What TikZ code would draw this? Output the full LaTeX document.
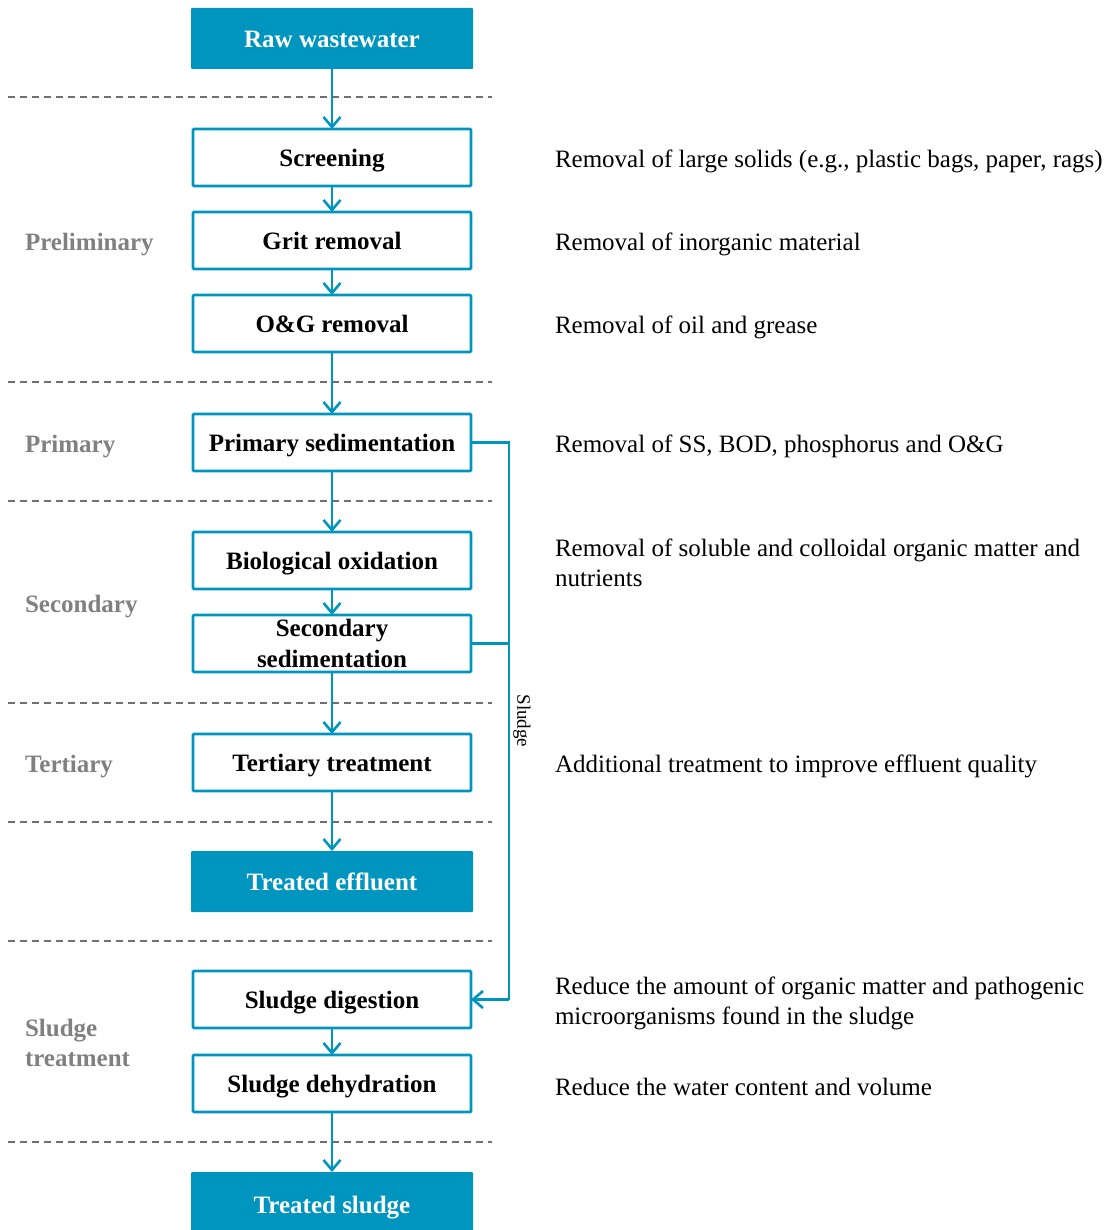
\documentclass[tikz,border=0pt]{standalone}
\usepackage{fontspec}
\setmainfont{Liberation Serif}
\usetikzlibrary{arrows.meta}
\definecolor{flowblue}{RGB}{0,149,191}
\definecolor{stagegray}{RGB}{128,128,128}
\definecolor{dashgray}{RGB}{112,112,112}
\begin{document}
\begin{tikzpicture}[x=1pt,y=-1pt,
  every node/.style={inner sep=0pt,outer sep=0pt},
  boxfont/.style={font=\fontsize{25}{31}\selectfont\bfseries},
  fixline/.style={text height=18pt,text depth=0pt},
  boxbase/.style={draw=flowblue,line width=2.8pt,fill=white,rounded corners=1pt,
    minimum width=278pt,minimum height=57pt,align=center,boxfont},
  stepbox/.style={boxbase,fixline},
  endbox/.style={fill=flowblue,rounded corners=1pt,minimum width=282pt,minimum height=61pt,
    fixline,text=white,boxfont},
  stage/.style={anchor=west,align=left,text=stagegray,font=\fontsize{25}{30}\selectfont\bfseries},
  note/.style={anchor=west,align=left,font=\fontsize{25}{30}\selectfont},
  flow/.style={draw=flowblue,line width=2.6pt,-{Straight Barb[length=10pt,width=17pt,line width=2.6pt]}},
  link/.style={draw=flowblue,line width=2.6pt},
  sep/.style={draw=dashgray,line width=1.3pt,dash pattern=on 6.5pt off 5.5pt}]
\useasboundingbox (0,0) rectangle (1111,1230);

% stage separators
\foreach \yy in {97,382,501,703,822,941,1142}
  \draw[sep] (8,\yy) -- (492,\yy);

% process chain
\node[endbox]  (raw)  at (332,38.5)  {Raw wastewater};
\node[stepbox] (scr)  at (332,157.5) {Screening};
\node[stepbox] (grit) at (332,240.5) {Grit removal};
\node[stepbox] (og)   at (332,323.5) {O\&G removal};
\node[stepbox] (psed) at (332,442.5) {Primary sedimentation};
\node[stepbox] (bio)  at (332,560.5) {Biological oxidation};
\node[boxbase] (ssed) at (332,643.5) {\raisebox{-2pt}{Secondary}\\\raisebox{-2pt}{sedimentation}};
\node[stepbox] (ter)  at (332,762.5) {Tertiary treatment};
\node[endbox]  (eff)  at (332,881.5) {Treated effluent};
\node[stepbox] (dig)  at (332,999.5) {Sludge digestion};
\node[stepbox] (dehy) at (332,1083.5){Sludge dehydration};
\node[endbox,minimum height=64pt] (tsl) at (332,1204) {Treated sludge};

\draw[flow] (raw) -- (scr);
\draw[flow] (scr) -- (grit);
\draw[flow] (grit) -- (og);
\draw[flow] (og) -- (psed);
\draw[flow] (psed) -- (bio);
\draw[flow] (bio) -- (ssed);
\draw[flow] (ssed) -- (ter);
\draw[flow] (ter) -- (eff);
\draw[flow] (dig) -- (dehy);
\draw[flow] (dehy) -- (tsl);

% sludge return line
\coordinate (sl1) at (509,442.5);
\coordinate (sl2) at (509,643.5);
\coordinate (sl3) at (509,999.5);
\draw[link] (psed.east) -- (sl1) -- (sl3);
\draw[link] (ssed.east) -- (sl2);
\draw[flow] (sl3) -- (dig.east);
\node[rotate=-90,font=\fontsize{19}{22}\selectfont] (sludge) at (522,721) {Sludge};

% stage labels
\node[stage] (lpre) at (25,245) {Preliminary};
\node[stage] (lpri) at (25,447) {Primary};
\node[stage] (lsec) at (25,607) {Secondary};
\node[stage] (lter) at (25,767) {Tertiary};
\node[stage] (lslu) at (25,1043) {Sludge\\treatment};

% descriptions
\node[note] (d1) at (555,161) {Removal of large solids (e.g., plastic bags, paper, rags)};
\node[note] (d2) at (555,244) {Removal of inorganic material};
\node[note] (d3) at (555,327) {Removal of oil and grease};
\node[note] (d4) at (555,446) {Removal of SS, BOD, phosphorus and O\&G};
\node[note] (d5) at (555,563) {Removal of soluble and colloidal organic matter and\\nutrients};
\node[note] (d6) at (555,766) {Additional treatment to improve effluent quality};
\node[note] (d7) at (555,1003) {Reduce the amount of organic matter and pathogenic\\microorganisms found in the sludge};
\node[note] (d8) at (555,1087) {Reduce the water content and volume};
\end{tikzpicture}
\end{document}
